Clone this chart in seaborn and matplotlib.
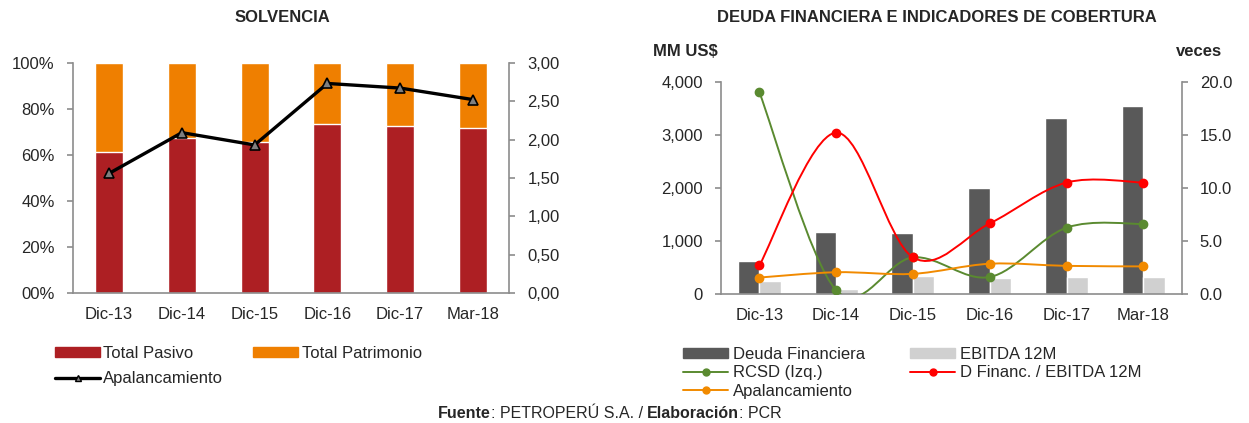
import numpy as np
import pandas as pd
import seaborn as sns
import matplotlib.pyplot as plt
from matplotlib.path import Path
from matplotlib.patches import PathPatch, Patch
from matplotlib.lines import Line2D
from matplotlib.offsetbox import TextArea, HPacker, AnchoredOffsetbox

PERIODS = ["Dic-13", "Dic-14", "Dic-15", "Dic-16", "Dic-17", "Mar-18"]

# Solvencia: share of total assets (%) and leverage (veces)
TOTAL_PASIVO = [61.3, 67.4, 65.6, 73.4, 72.4, 71.7]
TOTAL_PATRIMONIO = [38.7, 32.6, 34.4, 26.6, 27.6, 28.3]
APALANCAMIENTO_SOLV = [1.56, 2.09, 1.93, 2.73, 2.67, 2.52]

# Deuda financiera (MM US$) and coverage ratios (veces)
DEUDA_FINANCIERA = [620, 1175, 1140, 1995, 3310, 3535]
EBITDA_12M = [240, 90, 345, 310, 315, 320]
RCSD = [19.0, 0.35, 3.45, 1.6, 6.25, 6.6]
DFIN_EBITDA = [2.7, 15.2, 3.45, 6.65, 10.5, 10.5]
APALANCAMIENTO_DEUDA = [1.55, 2.05, 1.9, 2.85, 2.65, 2.6]

PCT_TICKS = [0, 20, 40, 60, 80, 100]
LEV_TICKS = [0, 0.5, 1.0, 1.5, 2.0, 2.5, 3.0]
MM_TICKS = [0, 1000, 2000, 3000, 4000]
VECES_TICKS = [0, 5, 10, 15, 20]

RED = "#AD1F23"
ORANGE = "#EF7F00"
DARK = "#595959"
LIGHT = "#D0D0D0"
GREEN = "#5A8A30"
LINE_RED = "#FF0000"
LINE_ORANGE = "#F18A00"
SPINE = "#8C8C8C"

W, H = 1249, 423
FS = 12


def smooth_path(xs, ys):
    """Excel-like smoothed line as cubic bezier segments through the points."""
    pts = np.column_stack([xs, ys]).astype(float)
    n = len(pts)
    verts = [pts[0]]
    codes = [Path.MOVETO]
    for i in range(n - 1):
        p0 = pts[max(i - 1, 0)]
        p1 = pts[i]
        p2 = pts[i + 1]
        p3 = pts[min(i + 2, n - 1)]
        verts += [p1 + (p2 - p0) / 6, p2 - (p3 - p1) / 6, p2]
        codes += [Path.CURVE4] * 3
    return Path(verts, codes)


def style_axes(ax, ax2):
    """Excel look: grey spines, ticks between categories."""
    for a in (ax, ax2):
        for side in ("top", "left", "right", "bottom"):
            a.spines[side].set_visible(False)
    ax.spines["left"].set_visible(True)
    ax.spines["bottom"].set_visible(True)
    ax2.spines["right"].set_visible(True)
    for sp in (ax.spines["left"], ax.spines["bottom"], ax2.spines["right"]):
        sp.set_color(SPINE)
        sp.set_linewidth(1.2)
    ax.set_xlim(-0.5, len(PERIODS) - 0.5)
    ax.set_xticks(range(len(PERIODS)))
    ax.set_xticklabels(PERIODS)
    ax.set_xticks(np.arange(-0.5, len(PERIODS), 1), minor=True)
    ax.tick_params(axis="x", which="major", length=0, pad=10, labelsize=FS)
    ax.tick_params(axis="x", which="minor", length=4, width=1.2, color=SPINE,
                   direction="out")
    ax.tick_params(axis="y", length=4, width=1.2, color=SPINE, pad=9,
                   labelsize=FS, left=True)
    ax2.tick_params(axis="y", length=4, width=1.2, color=SPINE, pad=9,
                    labelsize=FS, right=True)
    ax.set_xlabel("")
    ax.set_ylabel("")
    ax2.set_ylabel("")


def solvencia(fig):
    ax = fig.add_axes([72.7 / W, 1 - 293.3 / H, (509.3 - 72.7) / W, 230.6 / H])
    total = [a + b for a, b in zip(TOTAL_PASIVO, TOTAL_PATRIMONIO)]
    sns.barplot(x=PERIODS, y=total, color=ORANGE, saturation=1, width=0.385,
                ax=ax)
    sns.barplot(x=PERIODS, y=TOTAL_PASIVO, color=RED, saturation=1,
                width=0.385, ax=ax)
    ax.set_ylim(0, 100)
    ax.set_yticks(PCT_TICKS)
    ax.set_yticklabels([f"{v:02d}%" for v in PCT_TICKS])

    ax2 = ax.twinx()
    ax2.plot(range(len(PERIODS)), APALANCAMIENTO_SOLV, color="black", lw=2.4,
             marker="^", markersize=7, markerfacecolor="#7F7F7F",
             markeredgecolor="black", markeredgewidth=1.2)
    ax2.set_ylim(0, 3)
    ax2.set_yticks(LEV_TICKS)
    ax2.set_yticklabels([f"{v:.2f}".replace(".", ",") for v in LEV_TICKS])
    style_axes(ax, ax2)

    handles = [
        Patch(color=RED),
        Line2D([], [], color="black", lw=2.4, marker="^", markersize=5,
               markerfacecolor="#7F7F7F", markeredgecolor="black"),
        Patch(color=ORANGE),
    ]
    labels = ["Total Pasivo", "Apalancamiento", "Total Patrimonio"]
    fig.legend(handles, labels, loc="upper left",
               bbox_to_anchor=(55 / W, 1 - 346 / H), ncol=2, frameon=False,
               fontsize=FS, handlelength=2.7, handleheight=0.5,
               handletextpad=0.2, columnspacing=1.8, labelspacing=0.6,
               borderpad=0, borderaxespad=0)


def deuda(fig):
    ax = fig.add_axes([721 / W, 1 - 294 / H, (1181.7 - 721) / W, 212.3 / H])
    bars = pd.DataFrame({
        "period": PERIODS * 2,
        "value": DEUDA_FINANCIERA + EBITDA_12M,
        "serie": ["Deuda Financiera"] * len(PERIODS) + ["EBITDA 12M"] * len(PERIODS),
    })
    sns.barplot(data=bars, x="period", y="value", hue="serie",
                palette=[DARK, LIGHT], saturation=1, width=0.56, gap=0,
                legend=False, ax=ax)
    ax.set_ylim(0, 4000)
    ax.set_yticks(MM_TICKS)
    ax.set_yticklabels([f"{v:,}" for v in MM_TICKS])

    ax2 = ax.twinx()
    x = np.arange(len(PERIODS))
    for ys, color in ((RCSD, GREEN), (DFIN_EBITDA, LINE_RED),
                      (APALANCAMIENTO_DEUDA, LINE_ORANGE)):
        ax2.add_patch(PathPatch(smooth_path(x, ys), facecolor="none",
                                edgecolor=color, lw=1.4))
        ax2.plot(x, ys, linestyle="none", marker="o", markersize=6,
                 color=color)
    ax2.set_ylim(0, 20)
    ax2.set_yticks(VECES_TICKS)
    ax2.set_yticklabels([f"{v:.1f}" for v in VECES_TICKS])
    style_axes(ax, ax2)

    fig.text(653 / W, 1 - 52 / H, "MM US$", fontsize=FS, fontweight="bold",
             ha="left", va="center")
    fig.text(1199 / W, 1 - 52 / H, "veces", fontsize=FS, fontweight="bold",
             ha="center", va="center")

    def line_handle(color):
        return Line2D([], [], color=color, lw=1.4, marker="o", markersize=5)

    handles = [
        Patch(color=DARK),
        line_handle(GREEN),
        line_handle(LINE_ORANGE),
        Patch(color=LIGHT),
        line_handle(LINE_RED),
    ]
    labels = ["Deuda Financiera", "RCSD (Izq.)", "Apalancamiento",
              "EBITDA 12M", "D Financ. / EBITDA 12M"]
    fig.legend(handles, labels, loc="upper left",
               bbox_to_anchor=(683 / W, 1 - 347 / H), ncol=2, frameon=False,
               fontsize=FS, handlelength=2.7, handleheight=0.5,
               handletextpad=0.3, columnspacing=2.7, labelspacing=0.2,
               borderpad=0, borderaxespad=0)


if __name__ == "__main__":
    sns.set_style("white")
    plt.rcParams["font.family"] = ["Liberation Sans", "DejaVu Sans"]

    fig = plt.figure(figsize=(W / 100, H / 100), dpi=100)
    solvencia(fig)
    deuda(fig)

    fig.text(282 / W, 1 - 18 / H, "SOLVENCIA", fontsize=FS,
             fontweight="bold", ha="center", va="center")
    fig.text(937 / W, 1 - 18 / H, "DEUDA FINANCIERA E INDICADORES DE COBERTURA",
             fontsize=FS, fontweight="bold", ha="center", va="center")

    parts = [("Fuente", "bold"), (": PETROPERÚ S.A. / ", "normal"),
             ("Elaboración", "bold"), (": PCR", "normal")]
    pack = HPacker(children=[TextArea(t, textprops=dict(fontsize=FS - 0.5,
                                                        fontweight=w))
                             for t, w in parts], sep=0, pad=0)
    fig.add_artist(AnchoredOffsetbox(loc="center", child=pack, frameon=False,
                                     pad=0, borderpad=0,
                                     bbox_to_anchor=(610 / W, 1 - 413 / H),
                                     bbox_transform=fig.transFigure))

    fig.savefig("out.png", dpi=100)
